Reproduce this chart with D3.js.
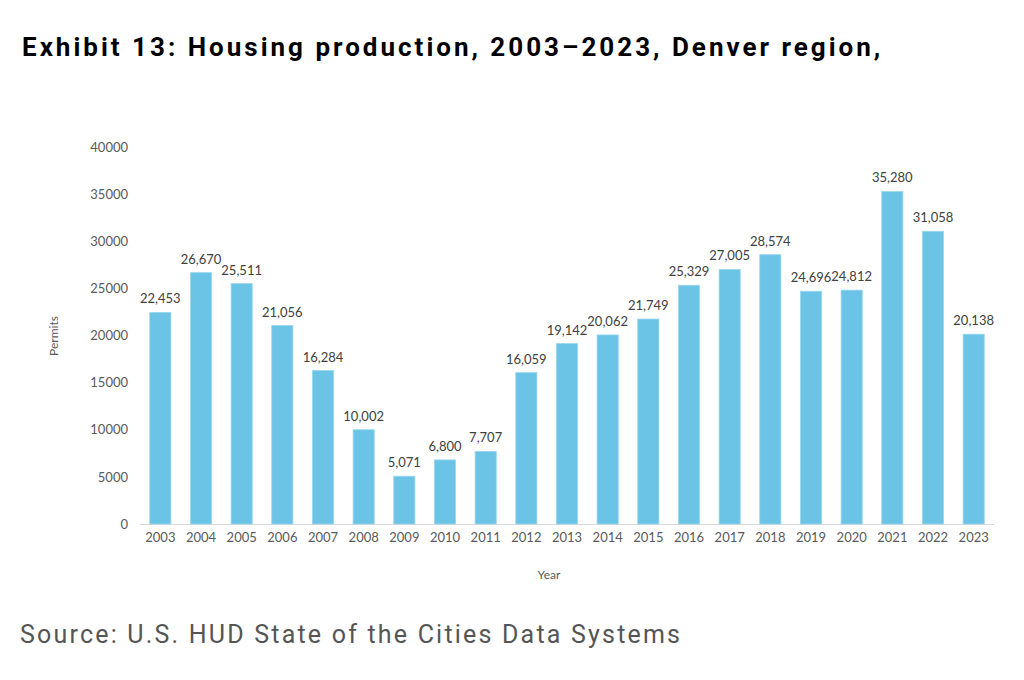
<!DOCTYPE html>
<html>
<head>
<meta charset="utf-8">
<script src="https://cdn.jsdelivr.net/npm/d3@7"></script>
<style>
  body { margin: 0; background: #fff; }
  svg { display: block; }
</style>
</head>
<body>
<svg id="chart" width="1024" height="680"></svg>
<script>
const years = ['2003','2004','2005','2006','2007','2008','2009','2010','2011','2012','2013',
  '2014','2015','2016','2017','2018','2019','2020','2021','2022','2023']
const permits = [22453, 26670, 25511, 21056, 16284, 10002, 5071, 6800, 7707, 16059, 19142,
  20062, 21749, 25329, 27005, 28574, 24696, 24812, 35280, 31058, 20138]
const yTicks = [0, 5000, 10000, 15000, 20000, 25000, 30000, 35000, 40000]

const svg = d3.select('#chart')
const tickFont = 'Lato, "Open Sans", sans-serif'

// stretch a text to a target width with letter spacing
function fitWidth(sel, target) {
  const n = sel.text().length
  const w = sel.node().getComputedTextLength()
  sel.attr('letter-spacing', ((target - w) / (n - 1)).toFixed(2))
}

// title + source
svg.append('text')
  .attr('x', 22).attr('y', 56)
  .attr('font-family', 'Roboto, sans-serif')
  .attr('font-weight', 700)
  .attr('font-size', 26)
  .attr('fill', '#000')
  .text('Exhibit 13: Housing production, 2003\u20132023, Denver region,')
  .call(fitWidth, 858)

svg.append('text')
  .attr('x', 20).attr('y', 643)
  .attr('font-family', 'Roboto, sans-serif')
  .attr('font-size', 25)
  .attr('fill', '#555')
  .text('Source: U.S. HUD State of the Cities Data Systems')
  .call(fitWidth, 660)

const x = d3.scaleBand()
  .domain(years)
  .range([140, 994])
  .paddingInner(0.48)
  .paddingOuter(0.24)

const y = d3.scaleLinear()
  .domain([0, 40000])
  .range([524, 147])

// y axis labels
const yAxis = svg.append('g')
  .attr('transform', 'translate(128,0)')
  .call(d3.axisLeft(y).tickValues(yTicks).tickFormat(d3.format('d')).tickSize(0).tickPadding(0))
yAxis.select('.domain').remove()
yAxis.selectAll('text')
  .attr('font-family', tickFont).attr('font-size', 13).attr('fill', '#595959')

// baseline
svg.append('line')
  .attr('x1', x.range()[0]).attr('x2', x.range()[1])
  .attr('y1', y(0) + 0.5).attr('y2', y(0) + 0.5)
  .attr('stroke', '#d9d9d9').attr('stroke-width', 1)

// bars
svg.append('g')
  .selectAll('rect')
  .data(permits)
  .join('rect')
  .attr('x', (d, i) => x(years[i]))
  .attr('y', d => y(d))
  .attr('width', x.bandwidth())
  .attr('height', d => y(0) - y(d))
  .attr('fill', '#6bc4e6')
  .attr('stroke', '#9ad6ee')
  .attr('stroke-width', 0.8)

// value labels
svg.append('g')
  .selectAll('text')
  .data(permits)
  .join('text')
  .attr('x', (d, i) => x(years[i]) + x.bandwidth() / 2)
  .attr('y', d => y(d) - 9)
  .attr('text-anchor', 'middle')
  .attr('font-family', tickFont).attr('font-size', 13).attr('fill', '#404040')
  .text(d => d3.format(',')(d))

// x axis labels
const xAxis = svg.append('g')
  .attr('transform', `translate(0,${y(0) + 9})`)
  .call(d3.axisBottom(x).tickSize(0).tickPadding(0))
xAxis.select('.domain').remove()
xAxis.selectAll('text')
  .attr('font-family', tickFont).attr('font-size', 13).attr('fill', '#595959')

// axis titles
svg.append('text')
  .attr('x', (x.range()[0] + x.range()[1]) / 2 - 18).attr('y', 579)
  .attr('text-anchor', 'middle')
  .attr('font-family', tickFont).attr('font-size', 12).attr('fill', '#595959')
  .text('Year')

svg.append('text')
  .attr('transform', 'translate(58,336) rotate(-90)')
  .attr('text-anchor', 'middle')
  .attr('font-family', tickFont).attr('font-size', 12).attr('fill', '#595959')
  .text('Permits')
</script>
</body>
</html>
